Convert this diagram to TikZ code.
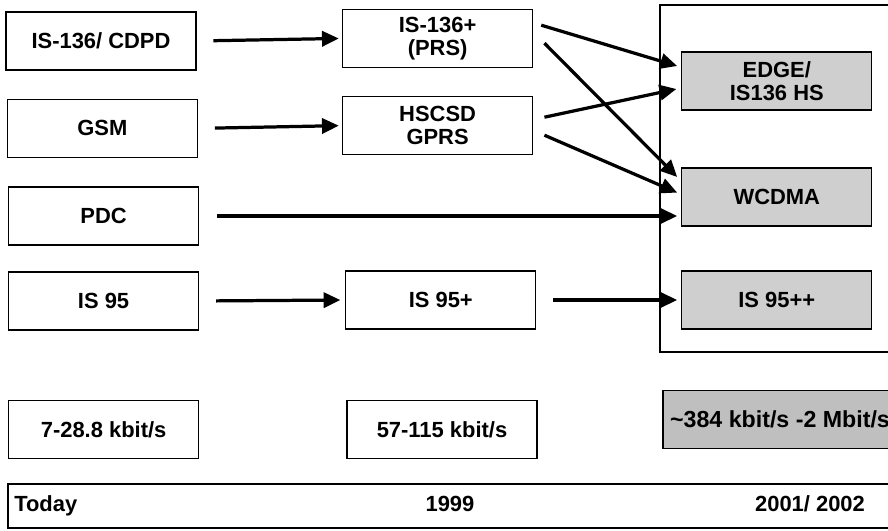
\documentclass[tikz,border=0pt]{standalone}
\usepackage{fontspec}
\setmainfont{Liberation Sans}
\usepackage{tikz}
\usetikzlibrary{arrows.meta, positioning, calc}

\begin{document}
\begin{tikzpicture}[
        techbox/.style={rectangle, draw=black, fill=white, line width=0.9pt, minimum width=4.75cm, minimum height=1.45cm, align=center, font=\fontsize{15.6}{16.5}\selectfont\bfseries},
        nextbox/.style={techbox, fill=gray!38},
        evoarrow/.style={-{Triangle[length=0.42cm, width=0.38cm]}, line width=2.3pt, color=black},
        yearlabel/.style={font=\fontsize{15.6}{16.5}\selectfont\bfseries, inner sep=0pt}
    ]
        \useasboundingbox (0,0) rectangle (22.2,-13.25);

        % Frame round the third generation
        \draw[line width=0.9pt] (22.4,-0.125) -- (16.5,-0.125) -- (16.5,-8.8) -- (22.4,-8.8);

        % Today
        \node[techbox] (cdpd) at (2.525,-1.025) {IS-136/ CDPD};
        \node[techbox] (gsm) at (2.56,-3.21) {GSM};
        \node[techbox] (pdc) at (2.59,-5.4) {PDC};
        \node[techbox] (is95) at (2.59,-7.525) {IS 95};

        % 1999
        \node[techbox] (prs) at (10.94,-0.96) {IS-136+\\(PRS)};
        \node[techbox] (hscsd) at (10.94,-3.14) {HSCSD\\GPRS};
        \node[techbox] (is95p) at (11.02,-7.5) {IS 95+};

        % 2001/2002
        \node[nextbox] (edge) at (19.42,-2.025) {EDGE/\\IS136 HS};
        \node[nextbox] (wcdma) at (19.42,-4.925) {WCDMA};
        \node[nextbox] (is95pp) at (19.42,-7.5) {IS 95++};

        % Data rates
        \node[techbox] (rateone) at (2.59,-10.74) {7-28.8 kbit/s};
        \node[techbox] (ratetwo) at (11.05,-10.74) {57-115 kbit/s};
        \node[nextbox, fill=gray!50, minimum width=5.85cm, inner xsep=1pt, font=\fontsize{16.5}{17}\selectfont\bfseries] (ratethree) at (19.5,-10.49) {\textasciitilde 384 kbit/s -2 Mbit/s};

        % Time line
        \draw[line width=0.9pt] (22.4,-12.1) -- (0.2,-12.1) -- (0.2,-13.2) -- (22.4,-13.2);
        \node[yearlabel, anchor=base west] (today) at (0.35,-12.775) {Today};
        \node[yearlabel, anchor=base] (ninetynine) at (11.25,-12.775) {1999};
        \node[yearlabel, anchor=base] (twothousand) at (20.25,-12.775) {2001/ 2002};

        % Connections
        \draw[evoarrow, shorten <=0.42cm, shorten >=0.08cm] (cdpd.east) -- (prs.west);
        \draw[evoarrow, shorten <=0.42cm, shorten >=0.08cm] (gsm.east) -- (hscsd.west);
        \draw[evoarrow, shorten <=0.45cm, shorten >=0.1cm] (pdc.east) -- (pdc.east -| wcdma.west);
        \draw[evoarrow, shorten <=0.42cm, shorten >=0.12cm] (is95.east) -- (is95p.west);
        \draw[evoarrow, shorten <=0.42cm, shorten >=0.1cm] (is95p.east) -- (is95pp.west);
        \draw[evoarrow] ([xshift=0.2cm, yshift=0.33cm]prs.east) -- ([xshift=-0.1cm, yshift=0.375cm]edge.west);
        \draw[evoarrow] ([xshift=0.28cm, yshift=-0.12cm]prs.east) -- ([xshift=-0.1cm, yshift=0.5cm]wcdma.west);
        \draw[evoarrow] ([xshift=0.28cm, yshift=0.21cm]hscsd.east) -- ([xshift=-0.12cm, yshift=-0.2cm]edge.west);
        \draw[evoarrow] ([xshift=0.28cm, yshift=-0.24cm]hscsd.east) -- ([xshift=-0.1cm, yshift=0.11cm]wcdma.west);
    \end{tikzpicture}
\end{document}
